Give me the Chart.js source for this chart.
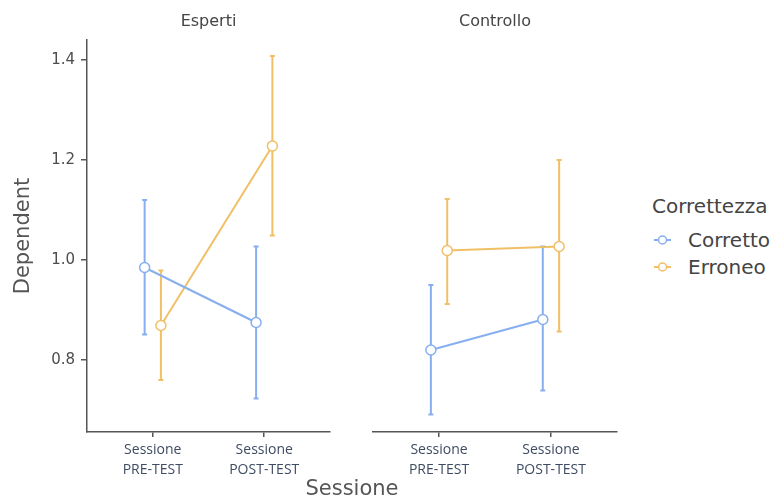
<!DOCTYPE html>
<html>
<head>
<meta charset="utf-8">
<script src="https://cdn.jsdelivr.net/npm/chart.js@4"></script>
<style>
html, body { margin: 0; padding: 0; background: #fff; }
#wrap { position: relative; width: 774px; height: 498px; overflow: hidden; }
.panel { position: absolute; top: 0; height: 498px; }
#xtitle { position: absolute; left: 252px; width: 200px; top: 476px; height: 24px; line-height: 24px;
  text-align: center; font: 21px "DejaVu Sans"; color: #555; }
.leg { position: absolute; font: 20px "DejaVu Sans"; color: #444; white-space: nowrap; }
.leg svg { position: absolute; left: 0; top: 0; }
</style>
</head>
<body>
<div id="wrap">
  <div class="panel" style="left:0;width:340px"><canvas id="esperti"></canvas></div>
  <div class="panel" style="left:340px;width:300px"><canvas id="controllo"></canvas></div>
  <div id="xtitle">Sessione</div>
  <div class="leg" style="left:652px;top:194px;line-height:24px">Correttezza</div>
  <div class="leg" id="leg0" style="left:653px;top:228px;line-height:24px"></div>
  <div class="leg" id="leg1" style="left:653px;top:255px;line-height:24px"></div>
</div>
<script>
// categories and groups
const sessions = ['PRE-TEST', 'POST-TEST'];
const sessionX = [1, 2];
const groups = ['Corretto', 'Erroneo'];
const colors = ['#87aff0', '#f0bf66'];

// Esperti panel: means and error bar bounds
const espertiCorretto = [0.985, 0.875];
const espertiCorrettoLo = [0.851, 0.723];
const espertiCorrettoHi = [1.120, 1.027];
const espertiErroneo = [0.869, 1.228];
const espertiErroneoLo = [0.760, 1.049];
const espertiErroneoHi = [0.979, 1.408];

// Controllo panel
const controlloCorretto = [0.820, 0.881];
const controlloCorrettoLo = [0.691, 0.739];
const controlloCorrettoHi = [0.950, 1.027];
const controlloErroneo = [1.019, 1.027];
const controlloErroneoLo = [0.912, 0.857];
const controlloErroneoHi = [1.122, 1.200];

const yTicks = [0.8, 1.0, 1.2, 1.4];
const dodge = 0.073;

// draws the vertical error bars with small caps, under the points
const errorBars = {
  id: 'errorBars',
  beforeDatasetsDraw(chart) {
    const ctx = chart.ctx;
    const xs = chart.scales.x, ys = chart.scales.y;
    chart.data.datasets.forEach(ds => {
      ctx.save();
      ctx.strokeStyle = ds.borderColor;
      ctx.lineWidth = 2;
      ds.data.forEach((p, i) => {
        const px = xs.getPixelForValue(p.x);
        const top = ys.getPixelForValue(ds.errHi[i]);
        const bot = ys.getPixelForValue(ds.errLo[i]);
        ctx.beginPath();
        ctx.moveTo(px, top); ctx.lineTo(px, bot);
        ctx.moveTo(px - 2.5, top); ctx.lineTo(px + 2.5, top);
        ctx.moveTo(px - 2.5, bot); ctx.lineTo(px + 2.5, bot);
        ctx.stroke();
      });
      ctx.restore();
    });
  }
};

// facet title centred over the plot area
const panelTitle = {
  id: 'panelTitle',
  afterDraw(chart, args, opts) {
    const ctx = chart.ctx;
    const a = chart.chartArea;
    ctx.save();
    ctx.fillStyle = '#444';
    ctx.font = '16px "DejaVu Sans"';
    ctx.textAlign = 'center';
    ctx.textBaseline = 'middle';
    ctx.fillText(opts.text, (a.left + a.right) / 2, 22);
    ctx.restore();
  }
};

function series(label, color, vals, lo, hi, shift) {
  return {
    label: label,
    data: vals.map((v, i) => ({ x: sessionX[i] + shift, y: v })),
    errLo: lo,
    errHi: hi,
    borderColor: color,
    borderWidth: 2,
    pointRadius: 5,
    pointBorderWidth: 1.5,
    pointBackgroundColor: '#fff',
    pointBorderColor: color,
    fill: false,
    tension: 0
  };
}

function makePanel(id, title, corr, corrLo, corrHi, err, errLo, errHi, showY, pad) {
  return new Chart(document.getElementById(id), {
    type: 'line',
    data: {
      datasets: [
        series(groups[0], colors[0], corr, corrLo, corrHi, -dodge),
        series(groups[1], colors[1], err, errLo, errHi, dodge)
      ]
    },
    options: {
      responsive: true,
      maintainAspectRatio: false,
      animation: false,
      layout: { padding: { left: pad[0], right: pad[1], top: 40, bottom: 0 } },
      plugins: {
        legend: { display: false },
        tooltip: { enabled: false },
        title: { display: false },
        panelTitle: { text: title }
      },
      scales: {
        x: {
          type: 'linear',
          min: 0.41,
          max: 2.59,
          afterBuildTicks: s => { s.ticks = sessionX.map(v => ({ value: v })); },
          afterFit: s => { s.height = 66; },
          grid: { drawOnChartArea: false, color: '#555', lineWidth: 1.5, tickLength: 5 },
          border: { color: '#555', width: 1.5 },
          ticks: {
            padding: 3,
            color: '#3e4c63',
            font: { family: 'Open Sans', size: 14, lineHeight: 1.43 },
            maxRotation: 0,
            callback: v => ['Sessione', sessions[sessionX.indexOf(v)]]
          }
        },
        y: {
          display: showY,
          min: 0.656,
          max: 1.44,
          afterBuildTicks: s => { s.ticks = yTicks.map(v => ({ value: v })); },
          afterFit: s => { s.width = showY ? 87 : 0; },
          grid: { drawOnChartArea: false, color: '#555', lineWidth: 1.5, tickLength: 6 },
          border: { color: '#555', width: 1.5 },
          ticks: {
            padding: 6,
            color: '#4d4d4d',
            font: { family: 'DejaVu Sans', size: 15 },
            callback: v => v.toFixed(1)
          },
          title: {
            display: true,
            text: 'Dependent',
            color: '#555',
            font: { family: 'DejaVu Sans', size: 21 },
            padding: { top: 11, bottom: 0 }
          }
        }
      }
    },
    plugins: [errorBars, panelTitle]
  });
}

makePanel('esperti', 'Esperti', espertiCorretto, espertiCorrettoLo, espertiCorrettoHi,
  espertiErroneo, espertiErroneoLo, espertiErroneoHi, true, [0, 10]);
makePanel('controllo', 'Controllo', controlloCorretto, controlloCorrettoLo, controlloCorrettoHi,
  controlloErroneo, controlloErroneoLo, controlloErroneoHi, false, [33, 23]);

// legend items
groups.forEach((g, i) => {
  const el = document.getElementById('leg' + i);
  el.innerHTML = '<svg width="20" height="24"><line x1="1" y1="12" x2="18" y2="12" stroke="' + colors[i] +
    '" stroke-width="2"/><circle cx="9.5" cy="12" r="4" fill="#fff" stroke="' + colors[i] +
    '" stroke-width="1.5"/></svg><span style="margin-left:35px">' + g + '</span>';
});
</script>
</body>
</html>
